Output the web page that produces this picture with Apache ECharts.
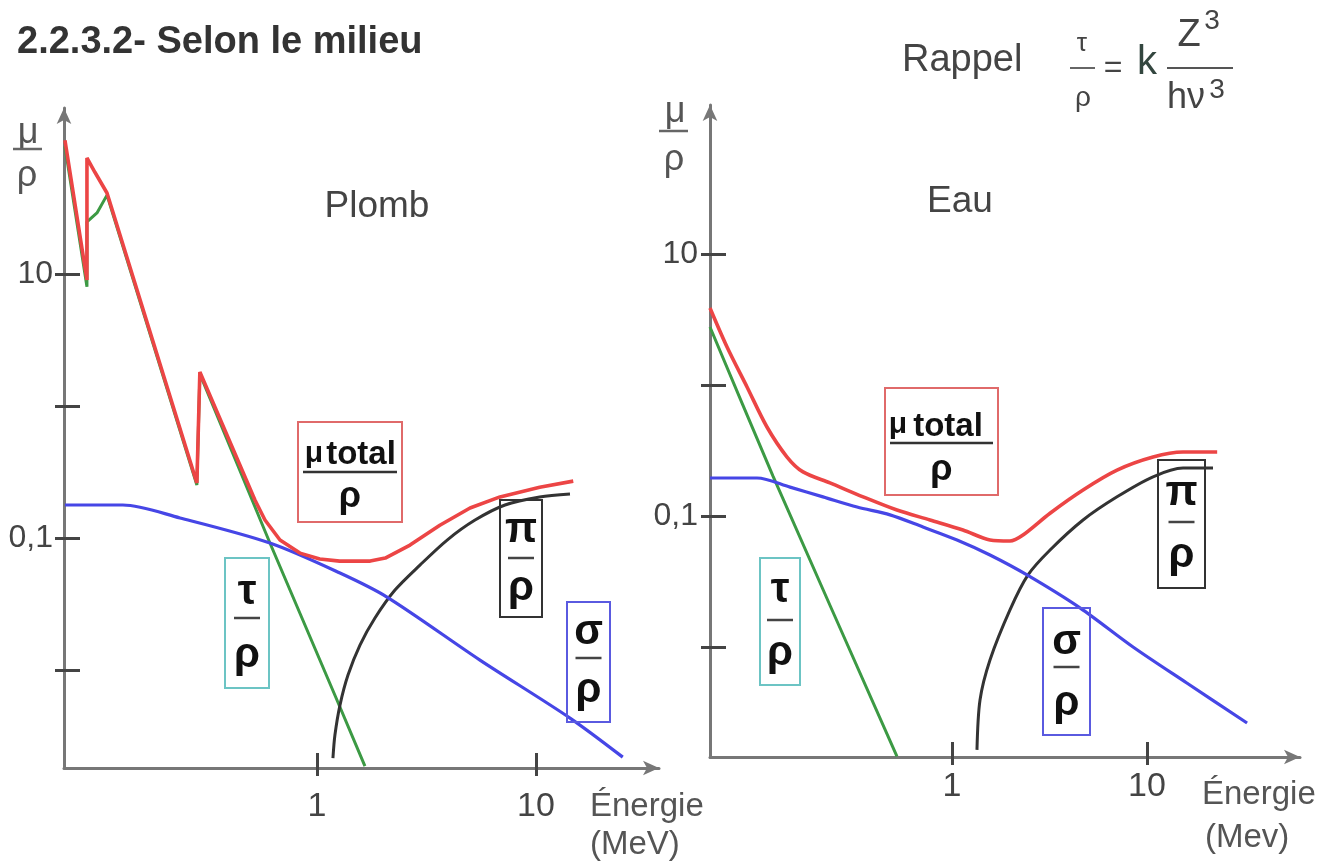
<!DOCTYPE html>
<html>
<head>
<meta charset="utf-8">
<title>Selon le milieu</title>
<script src="https://cdn.jsdelivr.net/npm/echarts@6.0.0/dist/echarts.min.js"></script>
<style>
html, body { margin: 0; padding: 0; background: #fff; }
#chart { width: 1325px; height: 863px; }
</style>
</head>
<body>
<div id="chart"></div>
<script>
// energie (MeV) / coefficient (u.a.)
const plombTotal = [
  [0.0707, 103], [0.0891, 9.0], [0.0891, 75.7], [0.0969, 59], [0.110, 41.1],
  [0.283, 0.261], [0.292, 1.81], [0.521, 0.194], [0.579, 0.137], [0.678, 0.0966],
  [0.836, 0.0769], [1.03, 0.0693], [1.27, 0.0669], [1.75, 0.0669], [2.05, 0.0705],
  [2.66, 0.0885], [3.64, 0.125], [5.00, 0.169], [6.85, 0.205], [10.4, 0.243], [14.8, 0.270]
];
const plombTau = [
  [0.0707, 93], [0.0891, 8.0], [0.0891, 24.8], [0.099, 29.0], [0.110, 39.6],
  [0.283, 0.252], [0.292, 1.75], [0.610, 0.0917], [1.234, 0.00593], [1.656, 0.00187]
];
const plombSigma = [
  [0.0707, 0.178], [0.130, 0.178], [0.237, 0.142], [0.610, 0.0917], [1.274, 0.0543],
  [2.088, 0.0357], [5.55, 0.0119], [14.3, 0.00433], [24.9, 0.00219]
];
const plombPi = [
  [1.183, 0.00215], [1.208, 0.00322], [1.274, 0.00543], [1.386, 0.00916], [1.572, 0.01545],
  [1.840, 0.02477], [2.271, 0.04036], [2.953, 0.06237], [3.93, 0.0966], [5.27, 0.1368],
  [7.22, 0.178], [10.4, 0.2047], [14.3, 0.2154]
];

const eauTotal = [
  [0.0574, 3.87], [0.0702, 1.95], [0.0889, 0.966], [0.1125, 0.478], [0.1426, 0.282],
  [0.1722, 0.217], [0.2366, 0.179], [0.350, 0.140], [0.522, 0.111], [0.771, 0.0932],
  [1.138, 0.0782], [1.566, 0.0656], [1.983, 0.0644], [2.312, 0.0716], [3.183, 0.105],
  [4.70, 0.158], [7.02, 0.224], [10.74, 0.282], [15.3, 0.308], [22.9, 0.308]
];
const eauTau = [
  [0.0574, 2.77], [0.1208, 0.2018], [0.522, 0.00146]
];
const eauSigma = [
  [0.0574, 0.195], [0.100, 0.195], [0.1477, 0.166], [0.218, 0.140], [0.326, 0.117],
  [0.481, 0.102], [0.710, 0.0824], [1.061, 0.0656], [1.566, 0.0504], [2.425, 0.0355],
  [4.53, 0.0199], [8.48, 0.0100], [16.0, 0.00531], [32.6, 0.00263]
];
const eauPi = [
  [1.343, 0.00164], [1.392, 0.00394], [1.566, 0.00796], [1.983, 0.0192], [2.454, 0.0355],
  [3.183, 0.0550], [4.70, 0.0932], [7.02, 0.140], [10.74, 0.199], [15.3, 0.232], [21.8, 0.232]
];

// graduations
const xTicks = [1, 10];
const xLabelValues = [1, 10];
const xLabelText = ['1', '10'];
const yTicks = [0.01, 0.1, 1, 10];
const yLabelValues = [0.1, 10];
const yLabelText = ['0,1', '10'];

const FONT = '"Liberation Sans", Arial, Helvetica, sans-serif';

function labelFor (v, vals, texts) {
    for (let i = 0; i < vals.length; i++) {
        if (Math.abs(Math.log10(v) - Math.log10(vals[i])) < 1e-6) return texts[i];
    }
    return '';
}

// axe principal + axe "fantome" pour la partie exterieure des graduations
function xAxes (grid, min, max, margin) {
    return [
        {
            type: 'log', logBase: 10, gridIndex: grid, position: 'bottom', min: min, max: max,
            axisLine: { show: true, onZero: false, symbol: ['none', 'arrow'], symbolSize: [11, 16], lineStyle: { color: '#777', width: 3 } },
            axisTick: { show: true, inside: true, length: 15, customValues: xTicks, lineStyle: { color: '#444', width: 3 } },
            axisLabel: { show: true, customValues: xLabelValues, margin: margin, color: '#444', fontSize: 34, fontFamily: FONT,
                formatter: v => labelFor(v, xLabelValues, xLabelText) },
            splitLine: { show: false }, minorTick: { show: false }, minorSplitLine: { show: false }
        },
        {
            type: 'log', logBase: 10, gridIndex: grid, position: 'bottom', min: min, max: max,
            axisLine: { show: false, onZero: false },
            axisTick: { show: true, inside: false, length: 8, customValues: xTicks, lineStyle: { color: '#444', width: 3 } },
            axisLabel: { show: false }, splitLine: { show: false }
        }
    ];
}
function yAxes (grid, min, max, margin) {
    return [
        {
            type: 'log', logBase: 10, gridIndex: grid, position: 'left', min: min, max: max,
            axisLine: { show: true, onZero: false, symbol: ['none', 'arrow'], symbolSize: [11, 16], lineStyle: { color: '#777', width: 3 } },
            axisTick: { show: true, inside: true, length: 16, customValues: yTicks, lineStyle: { color: '#444', width: 3 } },
            axisLabel: { show: true, customValues: yLabelValues, margin: margin, color: '#444', fontSize: 32, fontFamily: FONT,
                formatter: v => labelFor(v, yLabelValues, yLabelText) },
            splitLine: { show: false }, minorTick: { show: false }, minorSplitLine: { show: false }
        },
        {
            type: 'log', logBase: 10, gridIndex: grid, position: 'left', min: min, max: max,
            axisLine: { show: false, onZero: false },
            axisTick: { show: true, inside: false, length: 9, customValues: yTicks, lineStyle: { color: '#444', width: 3 } },
            axisLabel: { show: false }, splitLine: { show: false }
        }
    ];
}

function curve (data, color, width, xi, yi, smooth) {
    return {
        type: 'line', data: data, xAxisIndex: xi, yAxisIndex: yi,
        showSymbol: false, symbol: 'none', smooth: smooth, silent: true,
        lineStyle: { color: color, width: width }, emphasis: { disabled: true }
    };
}

// textes et cadres
function txt (x, y, text, font, fill, align) {
    return { type: 'text', x: x, y: y, z: 100,
        style: { text: text, font: font, fill: fill || '#111', align: align || 'center', verticalAlign: 'middle' } };
}
function bar (x1, x2, y, stroke, w) {
    return { type: 'line', z: 100, shape: { x1: x1, y1: y, x2: x2, y2: y }, style: { stroke: stroke || '#222', lineWidth: w || 2 } };
}
function box (x, y, w, h, stroke) {
    return { type: 'rect', z: 99, shape: { x: x, y: y, width: w, height: h },
        style: { fill: 'rgba(255,255,255,0)', stroke: stroke, lineWidth: 2 } };
}
const BIG = 'bold 42px ' + FONT;
function fraction (b) {
    const cx = b.x + b.w / 2;
    return [
        box(b.x, b.y, b.w, b.h, b.color),
        txt(cx, b.topY, b.top, BIG),
        bar(cx - 13, cx + 13, b.barY, '#444', 2.5),
        txt(cx, b.botY, 'ρ', BIG)
    ];
}
function totalBox (b) {
    return [
        box(b.x, b.y, b.w, b.h, '#e06a6a'),
        txt(b.muX, b.muY, 'μ', 'bold 30px ' + FONT),
        txt(b.totX, b.totY, 'total', 'bold 33px ' + FONT),
        bar(b.x + 5, b.x + b.w - 5, b.barY, '#333', 2.5),
        txt(b.x + b.w / 2, b.rhoY, 'ρ', 'bold 36px ' + FONT)
    ];
}

const graphics = [].concat(
    [
        txt(17, 43, '2.2.3.2- Selon le milieu', 'bold 38px ' + FONT, '#333', 'left'),
        txt(377, 207, 'Plomb', '37px ' + FONT, '#444'),
        txt(960, 202, 'Eau', '37px ' + FONT, '#444'),
        txt(902, 61, 'Rappel', '38px ' + FONT, '#444', 'left'),
        txt(1082, 44, 'τ', '26px ' + FONT, '#444'),
        bar(1070, 1095, 68, '#666', 2),
        txt(1083, 98, 'ρ', '28px ' + FONT, '#444'),
        txt(1113, 68, '=', '32px ' + FONT, '#444'),
        txt(1147, 63, 'k', '40px ' + FONT, '#33463f'),
        bar(1167, 1233, 68, '#555', 2),
        txt(1189, 36, 'Z', '38px ' + FONT, '#444'),
        txt(1212, 21, '3', '28px ' + FONT, '#444'),
        txt(1186, 98, 'hν', '36px ' + FONT, '#444'),
        txt(1217, 90, '3', '28px ' + FONT, '#444'),
        // nom des axes y
        txt(28, 133, 'μ', '36px ' + FONT, '#555'),
        bar(13, 42, 149, '#666', 2.5),
        txt(27, 176, 'ρ', '36px ' + FONT, '#555'),
        txt(675, 112, 'μ', '36px ' + FONT, '#555'),
        bar(659, 688, 131, '#666', 2.5),
        txt(674, 160, 'ρ', '36px ' + FONT, '#555'),
        // nom des axes x
        txt(590, 807, 'Énergie', '33px ' + FONT, '#555', 'left'),
        txt(590, 845, '(MeV)', '33px ' + FONT, '#555', 'left'),
        txt(1202, 795, 'Énergie', '33px ' + FONT, '#555', 'left'),
        txt(1205, 838, '(Mev)', '33px ' + FONT, '#555', 'left')
    ],
    totalBox({ x: 298, y: 422, w: 104, h: 100, muX: 314, muY: 454, totX: 361, totY: 455, barY: 472, rhoY: 497 }),
    totalBox({ x: 885, y: 388, w: 113, h: 107, muX: 898, muY: 425, totX: 948, totY: 427, barY: 443, rhoY: 470 }),
    fraction({ x: 225, y: 558, w: 44, h: 130, color: '#6cc4c4', top: 'τ', topY: 592, barY: 618, botY: 655 }),
    fraction({ x: 500, y: 500, w: 42, h: 117, color: '#333', top: 'π', topY: 530, barY: 558, botY: 588 }),
    fraction({ x: 567, y: 602, w: 43, h: 120, color: '#5a5ae0', top: 'σ', topY: 632, barY: 658, botY: 690 }),
    fraction({ x: 760, y: 558, w: 40, h: 127, color: '#6cc4c4', top: 'τ', topY: 590, barY: 620, botY: 653 }),
    fraction({ x: 1158, y: 460, w: 47, h: 128, color: '#333', top: 'π', topY: 493, barY: 522, botY: 555 }),
    fraction({ x: 1043, y: 608, w: 47, h: 127, color: '#5a5ae0', top: 'σ', topY: 642, barY: 667, botY: 703 })
);

const RED = '#ec4545', GREEN = '#3c9a44', BLUE = '#4646e6', BLACK = '#333';

const option = {
    animation: false,
    backgroundColor: '#fff',
    textStyle: { fontFamily: FONT },
    grid: [
        { left: 64, top: 108, width: 595, height: 660, containLabel: false, outerBoundsMode: 'none' },
        { left: 710, top: 105, width: 590, height: 652, containLabel: false, outerBoundsMode: 'none' }
    ],
    xAxis: [].concat(xAxes(0, 0.0700, 36.45, 22), xAxes(1, 0.05741, 60.9, 13)),
    yAxis: [].concat(yAxes(0, 0.001812, 181, 11), yAxes(1, 0.001446, 137.2, 12)),
    series: [
        curve(plombTau, GREEN, 3, 0, 0, false),
        curve(plombPi, BLACK, 3, 0, 0, 0.3),
        curve(plombSigma, BLUE, 3.2, 0, 0, 0.3),
        curve(plombTotal, RED, 3.6, 0, 0, false),
        curve(eauTau, GREEN, 3, 2, 2, 0.2),
        curve(eauPi, BLACK, 3, 2, 2, 0.3),
        curve(eauSigma, BLUE, 3.2, 2, 2, 0.3),
        curve(eauTotal, RED, 3.6, 2, 2, 0.3)
    ],
    graphic: graphics
};

const myChart = echarts.init(document.getElementById('chart'), null, { renderer: 'canvas' });
myChart.setOption(option);
</script>
</body>
</html>
